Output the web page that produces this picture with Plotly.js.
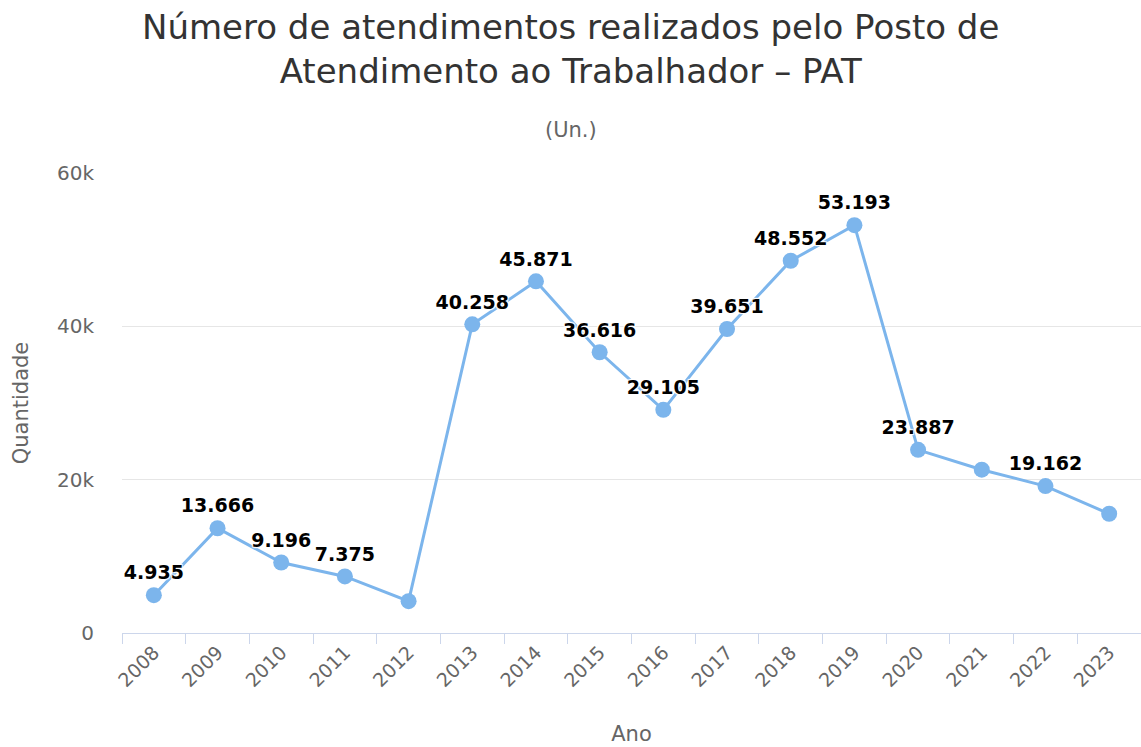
<!DOCTYPE html>
<html>
<head>
<meta charset="utf-8">
<script src="https://cdn.plot.ly/plotly-3.0.1.min.js"></script>
<style>html,body{margin:0;padding:0;background:#fff;}#chart{width:1141px;height:747px;}</style>
</head>
<body>
<div id="chart"></div>
<script>
const years = ['2008','2009','2010','2011','2012','2013','2014','2015','2016','2017','2018','2019','2020','2021','2022','2023'];
const atendimentos = [4935, 13666, 9196, 7375, 4150, 40258, 45871, 36616, 29105, 39651, 48552, 53193, 23887, 21300, 19162, 15550];
const showLabel = [true, true, true, true, false, true, true, true, true, true, true, true, true, false, true, false];
const titleText = 'Número de atendimentos realizados pelo Posto de<br>Atendimento ao Trabalhador – PAT';
const subtitleText = '(Un.)';

function fmtBR(v) {
  return String(v).replace(/\B(?=(\d{3})+(?!\d))/g, '.');
}
const labels = atendimentos.map((v, i) => showLabel[i] ? fmtBR(v) : '');

const FONT = 'DejaVu Sans, sans-serif';
const PLOT_L = 122, PLOT_R = 1141, PLOT_T = 173, PLOT_B = 633;
const pxX = x => (x - PLOT_L) / (PLOT_R - PLOT_L);
const pxY = y => (PLOT_B - y) / (PLOT_B - PLOT_T);

const trace = {
  type: 'scatter',
  mode: 'lines+markers+text',
  x: years,
  y: atendimentos,
  text: labels,
  textposition: 'top center',
  textfont: {
    family: FONT, size: 19, color: '#000000', weight: 700,
    shadow: '1px 1px 1px #fff, -1px -1px 1px #fff, 1px -1px 1px #fff, -1px 1px 1px #fff'
  },
  line: {color: '#7cb5ec', width: 3},
  marker: {color: '#7cb5ec', size: 16},
  cliponaxis: false,
  hoverinfo: 'x+y'
};

const layout = {
  width: 1141,
  height: 747,
  margin: {l: PLOT_L, r: 1141 - PLOT_R, t: PLOT_T, b: 747 - PLOT_B},
  paper_bgcolor: '#ffffff',
  plot_bgcolor: '#ffffff',
  showlegend: false,
  annotations: [{
    text: titleText,
    xref: 'paper', yref: 'paper',
    x: pxX(570.5), y: pxY(49),
    xanchor: 'center', yanchor: 'middle',
    showarrow: false,
    font: {family: FONT, size: 34, color: '#333333'}
  }, {
    text: subtitleText,
    xref: 'paper', yref: 'paper',
    x: pxX(570.5), y: pxY(130),
    xanchor: 'center', yanchor: 'middle',
    showarrow: false,
    font: {family: FONT, size: 21, color: '#666666'}
  }],
  xaxis: {
    type: 'category',
    range: [-0.5, 15.5],
    tickangle: -45,
    tickfont: {family: FONT, size: 19, color: '#666666'},
    showline: true, linecolor: '#ccd6eb', linewidth: 1,
    ticks: 'outside', ticklen: 10, tickcolor: '#ccd6eb', tickson: 'boundaries',
    showgrid: false, zeroline: false,
    title: {text: 'Ano', font: {family: FONT, size: 21, color: '#666666'}, standoff: 36}
  },
  yaxis: {
    range: [0, 60000],
    dtick: 20000,
    tick0: 0,
    tickfont: {family: FONT, size: 20, color: '#666666'},
    showgrid: true, gridcolor: '#e6e6e6', gridwidth: 1,
    zeroline: false, showline: false, ticks: '',
    ticklabelstandoff: 27,
    title: {text: 'Quantidade', font: {family: FONT, size: 21, color: '#666666'}, standoff: 22}
  }
};

Plotly.newPlot('chart', [trace], layout, {displayModeBar: false, responsive: false});
</script>
</body>
</html>
